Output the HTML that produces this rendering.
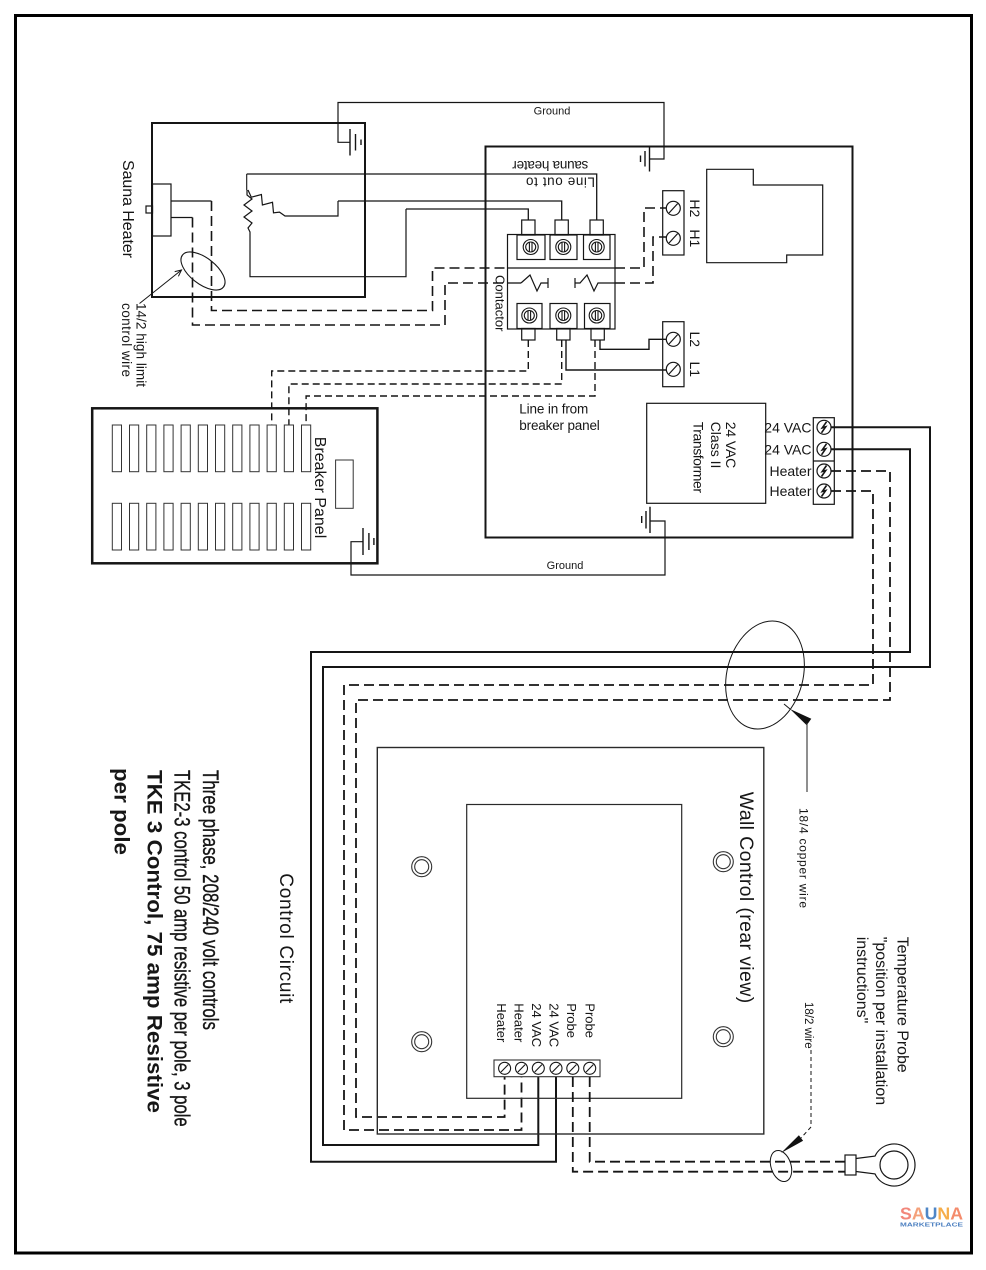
<!DOCTYPE html>
<html><head><meta charset="utf-8"><style>
html,body{margin:0;padding:0;background:#fff;}
svg{display:block;}
text{font-family:"Liberation Sans",Arial,sans-serif;fill:#161616;}
</style></head><body>
<svg width="986" height="1270" viewBox="0 0 986 1270" xmlns="http://www.w3.org/2000/svg">
<rect width="986" height="1270" fill="#fff"/>
<rect x="15.5" y="15.5" width="956" height="1237.5" fill="none" stroke="#000" stroke-width="3"/>

<g fill="none" stroke="#151515" stroke-width="1.5">
<!-- ===== Sauna heater ===== -->
<rect x="152" y="123" width="213" height="174" stroke-width="2"/>
<rect x="152.5" y="184" width="18.5" height="52" stroke-width="1.2"/>
<rect x="146" y="206" width="6.5" height="7" stroke-width="1.2"/>
<path d="M171,201 H211.5 M171,217.5 H192.5" stroke-width="1.2"/>
<!-- resistors -->
<path d="M246.7,174 V190" stroke-width="1.1"/>
<polyline points="247,190 247,195 252,199 244,205 252,211 244,217 252,223 248,228 250,232 250,276.7 406,276.7 406,209" stroke-width="1.2"/>
<polyline points="248,190 251.3,197.2 261.4,194.5 262.4,205 272.5,202.3 273.5,212.8 279.5,212.1 285,216 338,216 338,201" stroke-width="1.2"/>
<!-- heater -> contactor solid -->
<path d="M246.7,174 H596.7 V220 M338,201 H561.7 V220 M406,209 H528.3 V220" stroke-width="1.3"/>
<!-- control wire dashed -->
<path d="M211.5,201 V310.5 H432.5 V268 H507.5" stroke-dasharray="10 5" stroke-width="1.6"/>
<path d="M507.5,268 H615" stroke-width="1.3"/>
<path d="M615,268 H644 V208 H666" stroke-dasharray="10 5" stroke-width="1.6"/>
<path d="M192.5,217.5 V325 H445 V283 H507.5" stroke-dasharray="10 5" stroke-width="1.6"/>
<path d="M507.5,283 H521" stroke-width="1.3"/>
<path d="M615,283 H653 V237 H666" stroke-dasharray="10 5" stroke-width="1.6"/>
<!-- coils -->
<polyline points="521,283 530,275 537,291 541,283 548,283" stroke-width="1.2"/>
<path d="M548,278 V288 M575,278 V288" stroke-width="1.2"/>
<polyline points="575,283 580,283 587,275 594,291 598,283 615,283" stroke-width="1.2"/>
<!-- ellipse + arrow (14/2) -->
<ellipse cx="203" cy="271" rx="26" ry="13" transform="rotate(38 203 271)" stroke-width="1.1"/>
<path d="M139.5,303.5 L181.5,270" stroke-width="1"/>
<polyline points="174.7,271.6 181.5,270 178.4,276.3" stroke-width="1"/>

<!-- grounds top -->
<path d="M350,142.3 H338 V102.5 H664 V159 H649.5" stroke-width="1.2"/>
<path d="M350,129 V155.5 M355.5,134 V150.5 M361,139.5 V145" stroke-width="1.4"/>
<path d="M649.5,146 V171.5 M645,151 V166.5 M640.5,155.5 V162" stroke-width="1.4"/>

<!-- ===== Main control box ===== -->
<rect x="485.5" y="146.5" width="367" height="391" stroke-width="2"/>
<polygon points="706.7,169.3 753.3,169.3 753.3,185 822.7,185 822.7,255 786.7,255 786.7,262.7 706.7,262.7" stroke-width="1.2"/>

<!-- contactor -->
<rect x="507.5" y="234.5" width="107.5" height="94.5" stroke-width="1.2"/>
<rect x="517" y="235" width="28" height="24.5" stroke-width="1.2"/>
<rect x="550" y="235" width="27" height="24.5" stroke-width="1.2"/>
<rect x="583.5" y="235" width="26.5" height="24.5" stroke-width="1.2"/>
<rect x="521.7" y="220" width="13.3" height="15" stroke-width="1.2"/>
<rect x="555" y="220" width="13.3" height="15" stroke-width="1.2"/>
<rect x="590" y="220" width="13.3" height="15" stroke-width="1.2"/>
<rect x="517" y="303.5" width="25" height="25" stroke-width="1.2"/>
<rect x="550" y="303.5" width="27" height="25" stroke-width="1.2"/>
<rect x="584.5" y="303.5" width="25.5" height="25" stroke-width="1.2"/>
<rect x="521.7" y="328.5" width="13.3" height="11.5" stroke-width="1.2"/>
<rect x="556.7" y="328.5" width="13.3" height="11.5" stroke-width="1.2"/>
<rect x="591" y="328.5" width="13.3" height="11.5" stroke-width="1.2"/>
<g stroke-width="1.1">
<circle cx="530.7" cy="247" r="7.5"/><circle cx="530.7" cy="247" r="5"/><path d="M529.4,242.5 V251.5 M532,242.5 V251.5"/>
<circle cx="563.3" cy="247" r="7.5"/><circle cx="563.3" cy="247" r="5"/><path d="M562,242.5 V251.5 M564.6,242.5 V251.5"/>
<circle cx="596.7" cy="247" r="7.5"/><circle cx="596.7" cy="247" r="5"/><path d="M595.4,242.5 V251.5 M598,242.5 V251.5"/>
<circle cx="529.3" cy="315.5" r="7.5"/><circle cx="529.3" cy="315.5" r="5"/><path d="M528,311 V320 M530.6,311 V320"/>
<circle cx="563.3" cy="315.5" r="7.5"/><circle cx="563.3" cy="315.5" r="5"/><path d="M562,311 V320 M564.6,311 V320"/>
<circle cx="596.7" cy="315.5" r="7.5"/><circle cx="596.7" cy="315.5" r="5"/><path d="M595.4,311 V320 M598,311 V320"/>
</g>
<!-- contactor bottom wires -->
<path d="M566,340 V370 H666 M600,340 V349.3 H649 V339.3 H666" stroke-width="1.4"/>
<path d="M528.3,340 V371 H271.7 V425 M561.7,340 V384 H288.9 V425 M595,340 V396 H306.1 V425" stroke-dasharray="7 4" stroke-width="1.4"/>

<!-- H/L terminal blocks -->
<rect x="662.7" y="190.7" width="21.3" height="64.3" stroke-width="1.2"/>
<rect x="662.7" y="321.7" width="21.3" height="65" stroke-width="1.2"/>
<g stroke-width="1.2">
<circle cx="673.3" cy="208.3" r="7"/><path d="M669,213 L677.6,203.6"/>
<circle cx="673.3" cy="238.3" r="7"/><path d="M669,243 L677.6,233.6"/>
<circle cx="673.3" cy="339.3" r="7"/><path d="M669,344 L677.6,334.6"/>
<circle cx="673.3" cy="369.3" r="7"/><path d="M669,374 L677.6,364.6"/>
</g>

<!-- transformer -->
<rect x="646.7" y="403.3" width="119" height="100" stroke-width="1.2"/>
<rect x="813.3" y="417.7" width="21" height="86.6" stroke-width="1.2"/>
<path d="M813.3,461 H834.3" stroke-width="1.2"/>
<g stroke-width="1.2">
<circle cx="824" cy="427.3" r="7"/><path d="M826.5,421.8 L822.3,427.8 L825.7,426.8 L821.5,432.8" stroke-width="1.6"/>
<circle cx="824" cy="449.3" r="7"/><path d="M826.5,443.8 L822.3,449.8 L825.7,448.8 L821.5,454.8" stroke-width="1.6"/>
<circle cx="824" cy="471" r="7"/><path d="M826.5,465.5 L822.3,471.5 L825.7,470.5 L821.5,476.5" stroke-width="1.6"/>
<circle cx="824" cy="491" r="7"/><path d="M826.5,485.5 L822.3,491.5 L825.7,490.5 L821.5,496.5" stroke-width="1.6"/>
</g>
<!-- bottom ground -->
<path d="M363,541.7 H351 V575 H665 V521 H650" stroke-width="1.2"/>
<path d="M363,528 V555 M368.9,533 V550 M373.9,538 V545" stroke-width="1.4"/>
<path d="M650,506.7 V533 M646,511 V528.5 M641.7,516 V523" stroke-width="1.4"/>

<!-- ===== Breaker panel ===== -->
<rect x="92.2" y="408.3" width="285.2" height="155" stroke-width="2.5"/>
<g stroke-width="1" stroke="#333">
<rect x="112.3" y="425" width="9.2" height="46.7"/><rect x="129.5" y="425" width="9.2" height="46.7"/><rect x="146.7" y="425" width="9.2" height="46.7"/><rect x="163.9" y="425" width="9.2" height="46.7"/><rect x="181.1" y="425" width="9.2" height="46.7"/><rect x="198.3" y="425" width="9.2" height="46.7"/><rect x="215.5" y="425" width="9.2" height="46.7"/><rect x="232.7" y="425" width="9.2" height="46.7"/><rect x="249.9" y="425" width="9.2" height="46.7"/><rect x="267.1" y="425" width="9.2" height="46.7"/><rect x="284.3" y="425" width="9.2" height="46.7"/><rect x="301.5" y="425" width="9.2" height="46.7"/>
<rect x="112.3" y="503.3" width="9.2" height="46.7"/><rect x="129.5" y="503.3" width="9.2" height="46.7"/><rect x="146.7" y="503.3" width="9.2" height="46.7"/><rect x="163.9" y="503.3" width="9.2" height="46.7"/><rect x="181.1" y="503.3" width="9.2" height="46.7"/><rect x="198.3" y="503.3" width="9.2" height="46.7"/><rect x="215.5" y="503.3" width="9.2" height="46.7"/><rect x="232.7" y="503.3" width="9.2" height="46.7"/><rect x="249.9" y="503.3" width="9.2" height="46.7"/><rect x="267.1" y="503.3" width="9.2" height="46.7"/><rect x="284.3" y="503.3" width="9.2" height="46.7"/><rect x="301.5" y="503.3" width="9.2" height="46.7"/>
<rect x="335.6" y="460" width="17.6" height="48.3"/>
</g>

<!-- ===== Control wiring ===== -->
<path d="M831,427.3 H930 V667 H323 V1145 H538.3 V1077" stroke-width="2"/>
<path d="M831,449.3 H910 V652 H311 V1161.7 H556 V1077" stroke-width="2"/>
<path d="M831,471 H890 V700 H356 V1117 H504.6 V1077" stroke-dasharray="10 5" stroke-width="1.8"/>
<path d="M831,491 H873 V685 H344 V1130 H521.5 V1077" stroke-dasharray="10 5" stroke-width="1.8"/>
<!-- 18/4 ellipse + pointer -->
<ellipse cx="765" cy="675" rx="38" ry="55" transform="rotate(15 765 675)" stroke-width="1"/>
<path d="M784,704 L790,709" stroke-width="1"/>
<polygon points="790,709 811.3,718.7 806.7,725.3" fill="#111" stroke="none"/>
<path d="M807,723 V792" stroke-width="1.1" stroke="#333"/>

<!-- ===== Wall control ===== -->
<rect x="377.3" y="747.5" width="386.5" height="386.5" stroke-width="1.4" stroke="#2a2a2a"/>
<rect x="466.7" y="804.5" width="215" height="293.8" stroke-width="1.2" stroke="#2a2a2a"/>
<g stroke-width="1.1" stroke="#333">
<circle cx="421.7" cy="866.7" r="10"/><circle cx="421.7" cy="866.7" r="7"/>
<circle cx="723.3" cy="861.7" r="10"/><circle cx="723.3" cy="861.7" r="7"/>
<circle cx="421.7" cy="1041.7" r="10"/><circle cx="421.7" cy="1041.7" r="7"/>
<circle cx="723.3" cy="1036.7" r="10"/><circle cx="723.3" cy="1036.7" r="7"/>
</g>
<rect x="494" y="1060" width="106" height="16.7" stroke-width="1.1" stroke="#333"/>
<g stroke-width="1.1">
<circle cx="504.6" cy="1068.3" r="6"/><path d="M501,1072 L508.2,1064.6"/>
<circle cx="521.5" cy="1068.3" r="6"/><path d="M517.9,1072 L525.1,1064.6"/>
<circle cx="538.3" cy="1068.3" r="6"/><path d="M534.7,1072 L541.9,1064.6"/>
<circle cx="556" cy="1068.3" r="6"/><path d="M552.4,1072 L559.6,1064.6"/>
<circle cx="572.8" cy="1068.3" r="6"/><path d="M569.2,1072 L576.4,1064.6"/>
<circle cx="589.7" cy="1068.3" r="6"/><path d="M586.1,1072 L593.3,1064.6"/>
</g>
<!-- probe wires -->
<path d="M589.7,1077 V1161.7 H845 M572.8,1077 V1171.7 H845" stroke-dasharray="10 5" stroke-width="1.8"/>
<ellipse cx="781" cy="1166" rx="10" ry="16" transform="rotate(-18 781 1166)" stroke-width="1"/>
<polygon points="781,1153 803.1,1140.8 798.9,1135.2" fill="#111" stroke="none"/>
<path d="M811,1050 V1127 L801,1138" stroke-dasharray="4 3" stroke-width="1"/>
<rect x="845" y="1155" width="11" height="20" stroke-width="1.2"/>
<path d="M856,1158.5 L875,1156.1 A21,21 0 1,1 875,1173.9 L856,1171.5" stroke-width="1.2"/>
<circle cx="894" cy="1165" r="14" stroke-width="1.2"/>
</g>

<!-- ===== Text ===== -->
<text transform="translate(123,160) rotate(90)" font-size="16" textLength="98">Sauna Heater</text>
<text transform="translate(136.5,303) rotate(90)" font-size="13.5" textLength="84">14/2 high limit</text>
<text transform="translate(122,303) rotate(90)" font-size="13.5" textLength="74">control wire</text>
<text x="552" y="114.7" font-size="11" text-anchor="middle">Ground</text>
<text x="565" y="569" font-size="11" text-anchor="middle">Ground</text>
<text transform="translate(595,177.5) rotate(180)" font-size="13.5" textLength="69">Line out to</text>
<text transform="translate(588.3,161) rotate(180)" font-size="13.5" textLength="76">sauna heater</text>
<text transform="translate(690,208.3) rotate(90)" font-size="14" text-anchor="middle">H2</text>
<text transform="translate(690,238.3) rotate(90)" font-size="14" text-anchor="middle">H1</text>
<text transform="translate(690,339.3) rotate(90)" font-size="14" text-anchor="middle">L2</text>
<text transform="translate(690,369.3) rotate(90)" font-size="14" text-anchor="middle">L1</text>
<text transform="translate(495.3,275) rotate(90)" font-size="13" textLength="56.5">Contactor</text>
<text x="519.3" y="413.5" font-size="13.5" textLength="69">Line in from</text>
<text x="519.3" y="430" font-size="13.5" textLength="80.5">breaker panel</text>
<text transform="translate(726,421.7) rotate(90)" font-size="14" textLength="46.6">24 VAC</text>
<text transform="translate(711,421.7) rotate(90)" font-size="14">Class II</text>
<text transform="translate(693.5,421.7) rotate(90)" font-size="14" textLength="71.3">Transformer</text>
<text x="811.5" y="432.3" font-size="14" text-anchor="end">24 VAC</text>
<text x="811.5" y="454.3" font-size="14" text-anchor="end">24 VAC</text>
<text x="811.5" y="476" font-size="14" text-anchor="end">Heater</text>
<text x="811.5" y="496" font-size="14" text-anchor="end">Heater</text>
<text transform="translate(315,436.7) rotate(90)" font-size="16" textLength="101.6">Breaker Panel</text>
<text transform="translate(799.5,808) rotate(90)" font-size="12" textLength="100">18/4 copper wire</text>
<text transform="translate(740,791.7) rotate(90)" font-size="19.5" textLength="211.5">Wall Control (rear view)</text>
<text transform="translate(585.4,1003.3) rotate(90)" font-size="13">Probe</text>
<text transform="translate(567,1003.3) rotate(90)" font-size="13">Probe</text>
<text transform="translate(549.7,1003.3) rotate(90)" font-size="13">24 VAC</text>
<text transform="translate(532,1003.3) rotate(90)" font-size="13">24 VAC</text>
<text transform="translate(514.7,1003.3) rotate(90)" font-size="13">Heater</text>
<text transform="translate(497,1003.3) rotate(90)" font-size="13">Heater</text>
<text transform="translate(897.6,936.7) rotate(90)" font-size="16" textLength="136">Temperature Probe</text>
<text transform="translate(876,936.7) rotate(90)" font-size="16">"position per installation</text>
<text transform="translate(857,936.7) rotate(90)" font-size="16">instructions"</text>
<text transform="translate(805,1002) rotate(90)" font-size="11.5">18/2 wire</text>
<text transform="translate(280,873.3) rotate(90)" font-size="19" textLength="130">Control Circuit</text>
<text transform="translate(203,770) rotate(90)" font-size="22" textLength="260" lengthAdjust="spacingAndGlyphs" stroke="#161616" stroke-width="0.35" style="font-family:'Liberation Sans Narrow','Liberation Sans',sans-serif">Three phase, 208/240 volt controls</text>
<text transform="translate(174.5,770) rotate(90)" font-size="22" textLength="356.7" lengthAdjust="spacingAndGlyphs" stroke="#161616" stroke-width="0.35" style="font-family:'Liberation Sans Narrow','Liberation Sans',sans-serif">TKE2-3 control 50 amp resistive per pole, 3 pole</text>
<text transform="translate(147.7,770) rotate(90)" font-size="21" font-weight="bold" textLength="343" lengthAdjust="spacingAndGlyphs">TKE 3 Control, 75 amp Resistive</text>
<text transform="translate(114.4,768) rotate(90)" font-size="21" font-weight="bold" textLength="87" lengthAdjust="spacingAndGlyphs">per pole</text>

<!-- logo -->
<text x="900" y="1219.3" font-size="17.5" textLength="63" lengthAdjust="spacingAndGlyphs" style="font-weight:bold"><tspan fill="#f2877b">S</tspan><tspan fill="#f4a07a">A</tspan><tspan fill="#4f86c6">U</tspan><tspan fill="#f6ad4a">N</tspan><tspan fill="#f48b6c">A</tspan></text>
<text x="900" y="1226.7" font-size="5.5" textLength="63" lengthAdjust="spacingAndGlyphs" fill="#4b7fc0" style="fill:#4b7fc0;font-weight:bold">MARKETPLACE</text>
</svg>
</body></html>
